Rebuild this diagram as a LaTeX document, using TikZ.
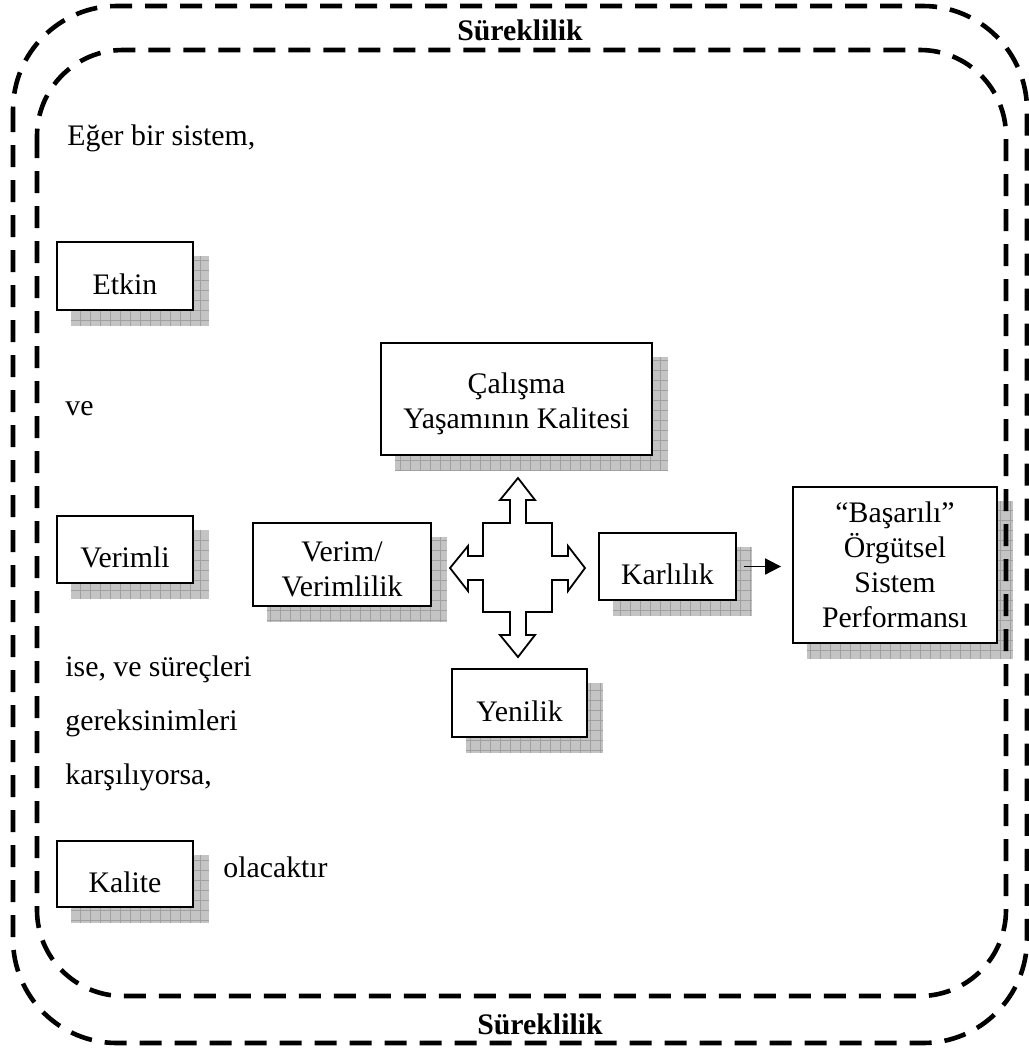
\documentclass[tikz,border=0pt]{standalone}
\usepackage{fontspec}
\setmainfont{Liberation Serif}
\usepackage{tikz}
\usetikzlibrary{arrows.meta, positioning, calc, backgrounds}
\definecolor{shadecolor}{HTML}{C4C4C4}
\definecolor{gridcolor}{HTML}{A0A0A0}

% grey chequered shadow behind a box
\newcommand{\boxshadow}[1]{%
  \begin{scope}[on background layer]
    \fill[shadecolor] ([shift={(7.5pt,-7.5pt)}]#1.south west) rectangle ([shift={(7.5pt,-7.5pt)}]#1.north east);
    \begin{scope}
      \clip ([shift={(7.5pt,-7.5pt)}]#1.south west) rectangle ([shift={(7.5pt,-7.5pt)}]#1.north east);
      \draw[gridcolor, line width=0.4pt, step=5pt] ([shift={(7.5pt,-7.5pt)}]#1.south west) grid ([shift={(7.5pt,-7.5pt)}]#1.north east);
    \end{scope}
  \end{scope}}

\begin{document}
\begin{tikzpicture}[
    x=0.5pt, y=-0.5pt,
    every node/.style={font=\fontsize{14.9}{17.5}\selectfont},
    box/.style={draw, line width=0.9pt, fill=white, align=center, inner sep=2pt},
    oneline/.style={text height=18.2pt, text depth=0pt},
    twoline/.style={text height=32.7pt},
    txt/.style={anchor=base west, inner sep=0pt},
    border/.style={line width=2.3pt, dash pattern=on 11pt off 6.5pt},
    cross/.style={draw, line width=0.9pt, fill=white, line join=miter}
]
    \useasboundingbox (0,0) rectangle (1029,1051);

    % --- dashed frames ---
    \draw[border, rounded corners=52pt] (13,6) rectangle (1027,1043);
    \draw[border, rounded corners=43pt] (37,50) rectangle (1006,996);
    \node[font=\fontsize{14.9}{17.5}\selectfont\bfseries] (sure1) at (520,30) {Süreklilik};
    \node[font=\fontsize{14.9}{17.5}\selectfont\bfseries] (sure2) at (540,1024) {Süreklilik};

    % --- left column ---
    \node[txt] (eger) at (67,145) {Eğer bir sistem,};
    \node[box, oneline, minimum width=68pt, minimum height=34pt] (etkin) at (125,276) {Etkin};
    \node[txt] (ve) at (65,415) {ve};
    \node[box, oneline, minimum width=68pt, minimum height=33.5pt] (verimli) at (125,549.5) {Verimli};
    \node[txt] (ise) at (65,676) {ise, ve süreçleri};
    \node[txt] (gerek) at (65,730) {gereksinimleri};
    \node[txt] (karsi) at (65,784) {karşılıyorsa,};
    \node[box, oneline, minimum width=68pt, minimum height=33pt] (kalite) at (125,874) {Kalite};
    \node[txt] (olacak) at (223,877) {olacaktır};

    % --- centre ---
    \node[box, twoline, minimum width=135.5pt, minimum height=56pt] (calisma) at (516.5,399) {Çalışma\\Yaşamının Kalitesi};
    \node[box, twoline, minimum width=89pt, minimum height=41.5pt] (verim) at (342,564.5) {Verim/\\Verimlilik};
    \node[box, oneline, minimum width=68.5pt, minimum height=33.5pt] (karlilik) at (667.5,566.5) {Karlılık};
    \node[box, oneline, minimum width=67.5pt, minimum height=34pt] (yenilik) at (519.5,703) {Yenilik};
    \node[box, minimum width=102pt, minimum height=78pt] (basarili) at (895,565) {“Başarılı”\\Örgütsel\\Sistem\\Performansı};

    \foreach \b in {etkin, verimli, kalite, calisma, verim, karlilik, yenilik, basarili}
        \boxshadow{\b};

    % four-way block arrow
    \draw[cross] (518,478) -- (535,500) -- (526,500) -- (526,523) -- (552,523)
        -- (552,556) -- (568,556) -- (568,546) -- (585,568) -- (568,591)
        -- (568,580) -- (552,580) -- (552,612) -- (526,612) -- (526,635)
        -- (535,635) -- (518,657) -- (500,635) -- (510,635) -- (510,612)
        -- (483,612) -- (483,580) -- (468,580) -- (468,591) -- (450,568)
        -- (468,546) -- (468,556) -- (483,556) -- (483,523) -- (510,523)
        -- (510,500) -- (500,500) -- cycle;

    \draw[line width=0.9pt, -{Triangle[length=8pt, width=8pt]}]
        ([xshift=3.5pt]karlilik.east) -- ([xshift=-5.5pt]karlilik.east -| basarili.west);
\end{tikzpicture}
\end{document}
